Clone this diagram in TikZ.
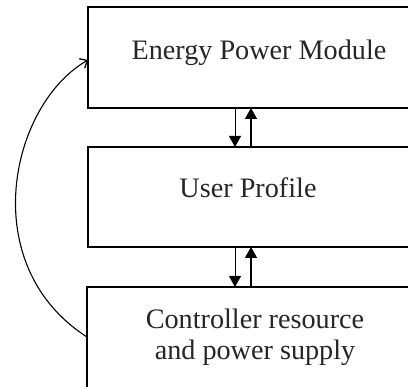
\documentclass[tikz,border=0pt]{standalone}
\usepackage{fontspec}
\setmainfont{Liberation Serif}
\usetikzlibrary{arrows.meta}
\begin{document}
\begin{tikzpicture}[x=1pt,y=-1pt,
  box/.style={draw=black,line width=1.6pt,rectangle,minimum width=342pt,inner sep=0pt,outer sep=0pt},
  lbl/.style={anchor=base,inner sep=0pt,font=\rmfamily\fontsize{28.2}{30}\selectfont,text=black!85},
  thinarrow/.style={line width=0.9pt,-{Triangle[length=11pt,width=12pt]}},
  thickarrow/.style={line width=1.5pt,-{Triangle[length=11pt,width=12pt]}},
  looparrow/.style={line width=1.1pt,-{Straight Barb[length=6pt,width=11pt,line width=1.3pt]}}]
\useasboundingbox (0,0) rectangle (408,387);
\clip (0,0) rectangle (408,387);
\node[box,minimum height=101pt,anchor=north west] (epm) at (88,7) {};
\node[box,minimum height=100pt,anchor=north west] (up) at (88,147) {};
\node[box,minimum height=130pt,anchor=north west] (crs) at (87,287) {};
\node[lbl] (t1) at (259,60) {Energy Power Module};
\node[lbl] (t2) at (248,198) {User Profile};
\node[lbl] (t3) at (255,329) {Controller resource};
\node[lbl] (t4) at (255,360) {and power supply};
\coordinate (dx) at (235,0);
\coordinate (ux) at (251,0);
\draw[thinarrow] (epm.south -| dx) -- (up.north -| dx);
\draw[thickarrow] (up.north -| ux) -- (epm.south -| ux);
\draw[thinarrow] (up.south -| dx) -- (crs.north -| dx);
\draw[thickarrow] (crs.north -| ux) -- (up.south -| ux);
\coordinate (cs) at (87,337);
\coordinate (ce) at (88,60);
\draw[looparrow] (cs) .. controls (-25,265) and (10,105) .. (ce);
\end{tikzpicture}
\end{document}
